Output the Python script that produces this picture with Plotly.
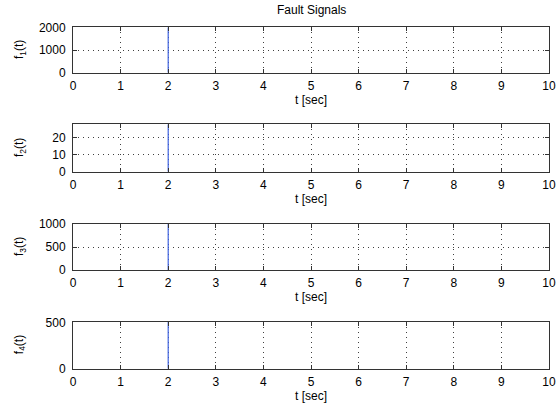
import plotly.graph_objects as go

# Fault signals: an impulse at t = 2 s, zero everywhere else
t = [2, 2]
f1 = [0, 2000]
f2 = [0, 28]
f3 = [0, 1000]
f4 = [0, 510]

signals = [f1, f2, f3, f4]
y_ranges = [[0, 2000], [0, 28], [0, 1000], [0, 510]]
y_ticks = [[0, 1000, 2000], [0, 10, 20], [0, 500, 1000], [0, 500]]
y_names = ["f<sub>1</sub>(t)", "f<sub>2</sub>(t)", "f<sub>3</sub>(t)", "f<sub>4</sub>(t)"]
x_ticks = list(range(0, 11))

W, H = 556, 412
# pixel rows (top, bottom) of each axes box
rows_px = [(27.3, 72.7), (124.3, 171.7), (224, 270), (321.7, 368.7)]
x_left, x_right = 73, 549

FONT = "Liberation Sans, Arial, Helvetica, sans-serif"
AX_COLOR = "#333333"

fig = go.Figure()
annotations = []
for i, (sig, yr, yt, name, (top, bot)) in enumerate(
        zip(signals, y_ranges, y_ticks, y_names, rows_px), start=1):
    xa = "x" if i == 1 else f"x{i}"
    ya = "y" if i == 1 else f"y{i}"
    fig.add_trace(go.Scatter(x=t, y=sig, mode="lines",
                             line=dict(color="#3f63e0", width=1.2),
                             xaxis=xa, yaxis=ya, showlegend=False))
    dom_y = [1 - bot / H, 1 - top / H]
    axis_common = dict(showline=True, linecolor=AX_COLOR, linewidth=1,
                       mirror="ticks", ticks="inside", ticklen=4,
                       tickcolor=AX_COLOR, showgrid=True,
                       gridcolor="#404040", griddash="1px,4px", gridwidth=1,
                       zeroline=False, layer="above traces", automargin=False,
                       tickfont=dict(family=FONT, size=12, color="#000000"))
    fig.layout[("xaxis" if i == 1 else f"xaxis{i}")] = dict(
        domain=[x_left / W, x_right / W], anchor=ya, range=[0, 10],
        tickvals=x_ticks, ticklabelstandoff=2,
        title=dict(text="t [sec]", standoff=1,
                   font=dict(family=FONT, size=12, color="#000000")),
        **axis_common)
    fig.layout[("yaxis" if i == 1 else f"yaxis{i}")] = dict(
        domain=dom_y, anchor=xa, range=yr, tickvals=yt,
        ticklabelstandoff=4, **axis_common)
    annotations.append(dict(text=name, x=20 / W, y=1 - (top + bot) / 2 / H,
                            xref="paper", yref="paper", textangle=-90,
                            showarrow=False, xanchor="center", yanchor="middle",
                            font=dict(family=FONT, size=12, color="#000000")))

annotations.append(dict(text="Fault Signals", x=(x_left + x_right) / 2 / W,
                        y=1 - 10 / H, xref="paper", yref="paper",
                        showarrow=False, xanchor="center", yanchor="middle",
                        font=dict(family=FONT, size=12, color="#000000")))

fig.update_layout(width=W, height=H, margin=dict(l=0, r=0, t=0, b=0),
                  paper_bgcolor="white", plot_bgcolor="white",
                  annotations=annotations)

fig.write_html("out.html")
